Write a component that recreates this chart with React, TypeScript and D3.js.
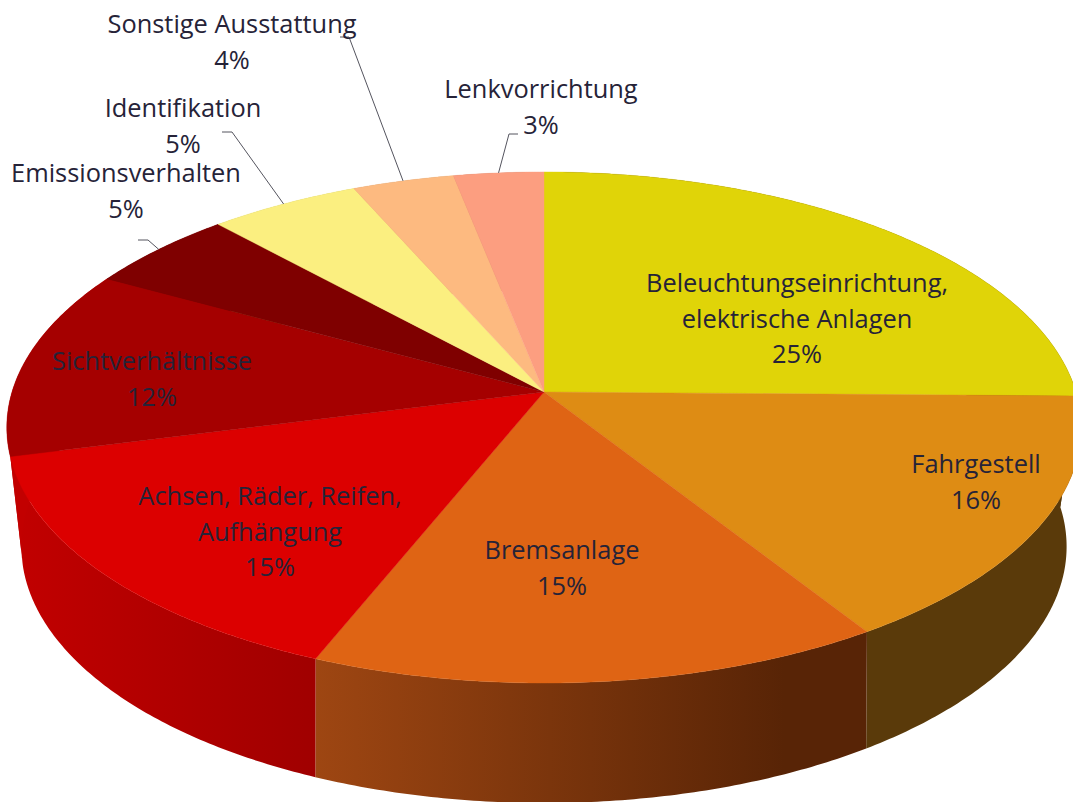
import React from "react";
import * as d3 from "d3";

const categories = [
  "Beleuchtungseinrichtung,|elektrische Anlagen",
  "Fahrgestell",
  "Bremsanlage",
  "Achsen, Räder, Reifen,|Aufhängung",
  "Sichtverhältnisse",
  "Emissionsverhalten",
  "Identifikation",
  "Sonstige Ausstattung",
  "Lenkvorrichtung",
];
const shares = [25.25, 15.75, 15.1, 14.9, 12, 5.2, 5.2, 3.5, 3.1];
const topColors = ["#e0d408", "#de8c14", "#df6414", "#dc0000", "#a50000", "#7f0000", "#fbef80", "#fdba80", "#fc9e80"];
const wallColors: [string, string][] = [
  ["#5a3a0a", "#5a3a0a"],
  ["#5a3a0a", "#5a3a0a"],
  ["#9e4612", "#582406"],
  ["#c20000", "#a00000"],
  ["#c20000", "#c20000"],
  ["#600000", "#600000"],
  ["#bdb360", "#bdb360"],
  ["#be8c60", "#be8c60"],
  ["#bd7760", "#bd7760"],
];
// label anchors: centre x, first baseline
const labelX = [797, 976, 562, 270, 152, 126, 183, 232, 541];
const labelY = [292, 473, 559, 505, 370, 182, 117, 33, 98];
// leader elbows (slices with outside labels)
const leaderSlices = [5, 6, 7, 8];
const leaderStart: [number, number][] = [[138, 240], [222, 132], [340, 37], [518, 134]];
const leaderElbow: [number, number][] = [[148, 240], [232, 132], [349, 37], [509, 134]];

const W = 1073;
const H = 802;
const top = { cx: 544, cy: 392, rx: 532, ry: 250.6, k: 0.1389 };
const bottom = { cx: 544, cy: 503, rx: 515, ry: 249, k: 0.17 };

type Plane = typeof top;
const project = (p: Plane, a: number, r = 1): [number, number] => {
  const u = Math.sin(a) * r;
  const v = -Math.cos(a) * r;
  const w = 1 - p.k * v;
  return [p.cx + (p.rx * u) / w, p.cy + (p.ry * v) / w];
};
const samples = (a0: number, a1: number) => {
  const n = Math.max(2, Math.ceil((a1 - a0) / 0.01));
  return d3.range(n + 1).map((i) => a0 + ((a1 - a0) * i) / n);
};
const line = d3.line<[number, number]>();

const arcs = d3.pie<number>().sort(null).value((d) => d)(shares);

export default function App() {
  return (
    <svg
      width={W}
      height={H}
      viewBox={`0 0 ${W} ${H}`}
      style={{ position: "fixed", left: 0, top: 0, background: "#fff" }}
      fontFamily="'Open Sans', sans-serif"
      fontSize={25.4}
    >
      <defs>
        {arcs.map((d, i) => {
          const xs = samples(d.startAngle, d.endAngle).map((a) => project(top, a)[0]);
          return (
            <linearGradient
              key={i}
              id={`wall${i}`}
              gradientUnits="userSpaceOnUse"
              x1={d3.min(xs)}
              x2={d3.max(xs)}
              y1={0}
              y2={0}
            >
              <stop offset="0" stopColor={i === 2 || i === 3 ? wallColors[i][0] : wallColors[i][1]} />
              <stop offset={i === 2 ? "0.85" : "1"} stopColor={wallColors[i][1]} />
            </linearGradient>
          );
        })}
      </defs>
      {arcs.map((d, i) => {
        const as = samples(d.startAngle, d.endAngle);
        const pts = [
          ...as.map((a) => project(top, a)),
          ...as.slice().reverse().map((a) => project(bottom, a)),
        ];
        return <path key={i} d={line(pts) + "Z"} fill={`url(#wall${i})`} />;
      })}
      {arcs.map((d, i) => {
        const pts = [[top.cx, top.cy] as [number, number], ...samples(d.startAngle, d.endAngle).map((a) => project(top, a))];
        return <path key={i} d={line(pts) + "Z"} fill={topColors[i]} stroke={topColors[i]} strokeWidth={0.4} />;
      })}
      {leaderSlices.map((s, i) => {
        const d = arcs[s];
        const end = project(top, (d.startAngle + d.endAngle) / 2);
        return (
          <path
            key={s}
            d={line([leaderStart[i], leaderElbow[i], end]) as string}
            fill="none"
            stroke="#55555f"
            strokeWidth={1}
          />
        );
      })}
      {categories.map((c, i) => {
        const lines = [...c.split("|"), `${Math.round(shares[i])}%`];
        return (
          <text key={c} textAnchor="middle" fill="#262338">
            {lines.map((t, j) => (
              <tspan key={j} x={labelX[i]} y={labelY[i] + j * 35.5}>
                {t}
              </tspan>
            ))}
          </text>
        );
      })}
    </svg>
  );
}
